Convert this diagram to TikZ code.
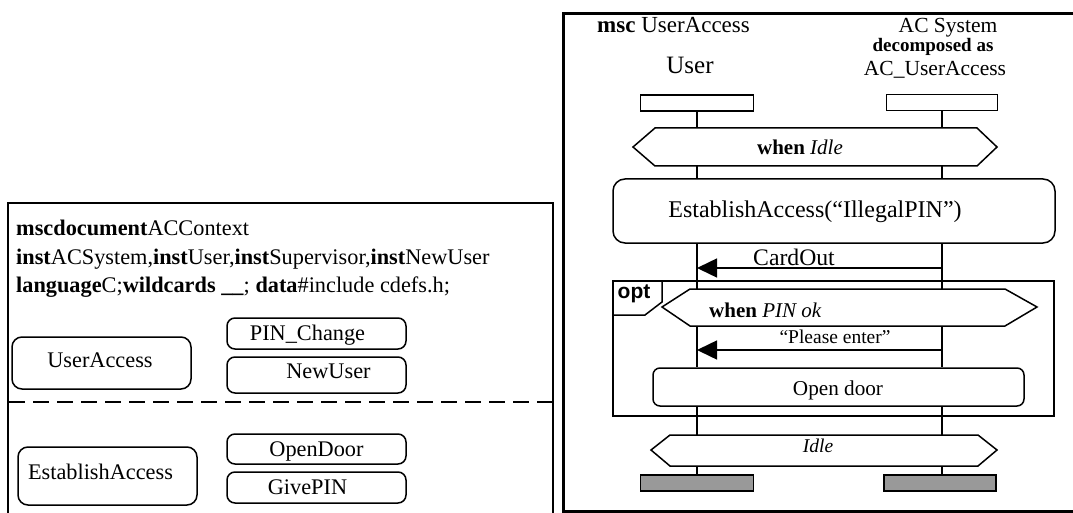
\documentclass[tikz,border=0pt]{standalone}
\usepackage{fontspec}
\setmainfont{Liberation Serif}
\setsansfont{Liberation Sans}
\usetikzlibrary{arrows.meta}
\definecolor{endgray}{HTML}{999999}
\begin{document}
\begin{tikzpicture}[x=1pt,y=-1pt,
  tx/.style={inner sep=0pt, font=\fontsize{#1}{#1}\selectfont},
  rbox/.style={draw, line width=1.5pt, rounded corners=#1, inner sep=0pt, fill=white},
  life/.style={line width=1.5pt},
  msg/.style={line width=1.5pt, -{Triangle[length=20pt,width=19pt]}},
  cond/.style={draw, line width=1.5pt, fill=white, line join=miter},
  headbox/.style={draw, line width=1.5pt, inner sep=0pt, minimum width=113pt, minimum height=16pt},
  endbox/.style={headbox, fill=endgray}]
\useasboundingbox (0,0) rectangle (1073,513);

% ---------- left: mscdocument ----------
\draw[line width=2pt, line join=miter] (8,515) -- (8,203) -- (553,203) -- (553,515);
\node[tx=22.3, anchor=base west] (l1) at (16,236) {\textbf{mscdocument}ACContext};
\node[tx=22.3, anchor=base west] (l2) at (16,264) {\textbf{inst}ACSystem,\textbf{inst}User,\textbf{inst}Supervisor,\textbf{inst}NewUser};
\node[tx=22.3, anchor=base west] (l3) at (16,292) {\textbf{language}C;\textbf{wildcards \_\_}; \textbf{data}\#include cdefs.h;};

\node[rbox=10pt, minimum width=179pt, minimum height=52pt] (uabox) at (101.5,363) {};
\node[tx=22.3, anchor=base] (uatxt) at (100,367) {UserAccess};
\node[rbox=8pt, minimum width=179pt, minimum height=31pt] (pcbox) at (316.5,333.5) {};
\node[tx=22.3, anchor=base] (pctxt) at (307.5,340) {PIN\_Change};
\node[rbox=8pt, minimum width=179pt, minimum height=36pt] (nubox) at (316.5,375) {};
\node[tx=22.3, anchor=base] (nutxt) at (328.5,378) {NewUser};

\draw[line width=2pt, dash pattern=on 16pt off 8pt] (9,402) -- (553,402);

\node[rbox=10pt, minimum width=179pt, minimum height=58pt] (eabox) at (107.5,476) {};
\node[tx=22.3, anchor=base] (eatxt) at (100.5,479) {EstablishAccess};
\node[rbox=8pt, minimum width=179pt, minimum height=30pt] (odbox) at (316.5,449) {};
\node[tx=22.3, anchor=base] (odtxt) at (316.5,456) {OpenDoor};
\node[rbox=8pt, minimum width=179pt, minimum height=31pt] (gpbox) at (316.5,487.5) {};
\node[tx=22.3, anchor=base] (gptxt) at (307.5,494) {GivePIN};

% ---------- right: msc UserAccess ----------
\draw[line width=3pt, line join=miter] (1080,13.7) -- (563.5,13.7) -- (563.5,511.7) -- (1080,511.7);
\node[tx=23, anchor=base west] (mscname) at (597,33) {\textbf{msc} UserAccess};
\node[tx=25, anchor=base] (usr) at (690,73.5) {User};
\node[tx=21.5, anchor=base] (acs) at (948,33) {AC System};
\node[tx=19, anchor=base] (dec) at (933,51.5) {\textbf{decomposed as}};
\node[tx=21.5, anchor=base] (acua) at (935,76) {AC\_UserAccess};

\node[headbox] (uh) at (697,103) {};
\node[headbox, minimum width=111pt] (ah) at (942,102.5) {};

% opt frame
\draw[line width=1.5pt] (613,281) rectangle (1054,416);
\draw[line width=1.5pt, line join=miter] (613,281) -- (662,281) -- (662,302) -- (645,315) -- (613,315);
\node[tx=21, anchor=base, font=\fontsize{21}{21}\selectfont\sffamily\bfseries] (opt) at (634,298) {opt};

% conditions
\draw[cond] (633,147) -- (655,128) -- (977,128) -- (997,147) -- (977,166) -- (655,166) -- cycle;
\coordinate (c1t) at (0,128);
\coordinate (c1b) at (0,166);
\node[tx=21, anchor=base] (c1txt) at (800,155) {\textbf{when} \textit{Idle}};

\node[rbox=12pt, minimum width=442pt, minimum height=64pt] (ea) at (834,211) {};
\node[tx=24, anchor=base] (eamsc) at (815,218) {EstablishAccess(“IllegalPIN”)};

\draw[cond] (662,307) -- (690,289) -- (1005,289) -- (1037,307) -- (1005,326) -- (690,326) -- cycle;
\coordinate (c2t) at (0,289);
\coordinate (c2b) at (0,326);
\node[tx=21, anchor=base west] (c2txt) at (709,317) {\textbf{when} \textit{PIN ok}};

\node[rbox=7pt, minimum width=371pt, minimum height=38pt] (od) at (838.5,387) {};
\node[tx=21.2, anchor=base] (odmsc) at (838,395) {Open door};

\draw[cond] (651,450) -- (670,435) -- (978,435) -- (997,450) -- (978,466) -- (670,466) -- cycle;
\coordinate (c3t) at (0,435);
\coordinate (c3b) at (0,466);
\node[tx=19.5, anchor=base] (c3txt) at (818,452) {\textit{Idle}};

\node[endbox] (ue) at (697,483) {};
\node[endbox, minimum width=112pt] (ae) at (940,483) {};

% lifelines
\foreach \h/\e in {uh/ue, ah/ae} {
  \draw[life] (\h.south) -- (\h.south |- c1t);
  \draw[life] (\h.south |- c1b) -- (\h.south |- ea.north);
  \draw[life] (\h.south |- ea.south) -- (\h.south |- c2t);
  \draw[life] (\h.south |- c2b) -- (\h.south |- od.north);
  \draw[life] (\h.south |- od.south) -- (\h.south |- c3t);
  \draw[life] (\h.south |- c3b) -- (\h.south |- \e.north);
}

% messages
\coordinate (m1) at (0,268);
\coordinate (m2) at (0,350);
\draw[msg] (ah.south |- m1) -- (uh.south |- m1);
\node[tx=23.7, anchor=base] (cardout) at (794,265.5) {CardOut};
\draw[msg] (ah.south |- m2) -- (uh.south |- m2);
\node[tx=19.5, anchor=base] (please) at (835,343) {“Please enter”};
\end{tikzpicture}
\end{document}
